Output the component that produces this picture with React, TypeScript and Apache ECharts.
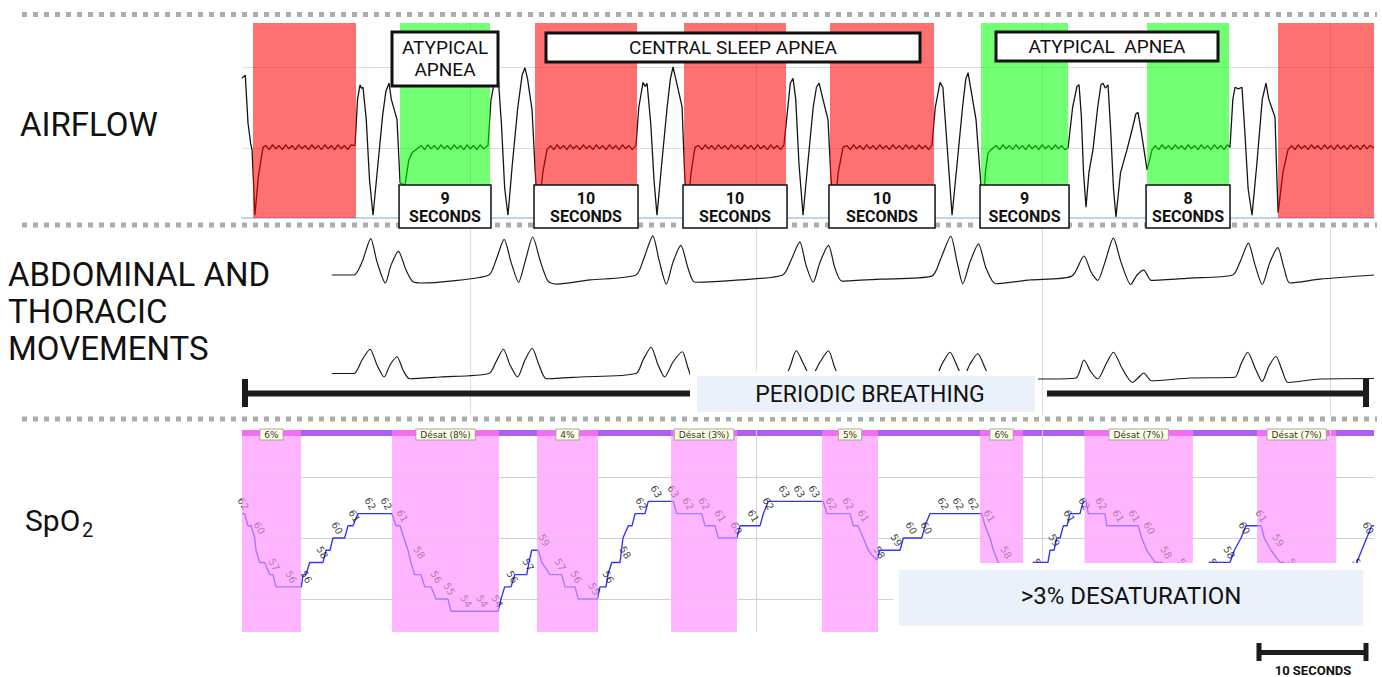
import React, { useEffect, useRef } from "react";
import * as echarts from "echarts";

// ---------- time axis (seconds) ----------
const T_MAX = 103.85;
const GRID_TIMES = [20.92, 47.16, 73.39, 99.82];

// ---------- apnea events (airflow) ----------
const APNEA_START = [1.01, 14.5, 26.88, 40.55, 53.94, 67.8, 83.03, 95.05];
const APNEA_END = [10.46, 22.75, 36.24, 49.91, 63.49, 75.78, 90.55, 103.85];
const APNEA_TYPE = ["central", "atypical", "central", "central", "central", "atypical", "atypical", "central"];
const APNEA_SECONDS = [null, 9, 10, 10, 10, 9, 8, null];

const AIRFLOW_GRID = [0, 1];

// airflow trace [t, amplitude]
const AIRFLOW = [
  [0, 0.86], [0.3, 0.9], [0.55, 0.31], [0.8, 0.05], [0.92, -0.02], [1.19, -0.83], [1.5, -0.35], [1.93, 0.01],
  [2.2, 0.03], [2.5, -0.02], [2.8, 0.04], [3.1, -0.01], [3.4, 0.03], [3.7, -0.02], [4.0, 0.04], [4.3, -0.01], [4.6, 0.03], [4.9, -0.02],
  [5.2, 0.04], [5.5, -0.01], [5.8, 0.03], [6.1, -0.02], [6.4, 0.04], [6.7, -0.01], [7.0, 0.03], [7.3, -0.02], [7.6, 0.04], [7.9, -0.01],
  [8.2, 0.03], [8.5, -0.02], [8.8, 0.04], [9.1, -0.01], [9.4, 0.03], [9.7, -0.02], [10.0, 0.04], [10.37, 0.03],
  [10.6, 0.6], [10.83, 0.78], [10.95, 0.74], [11.1, 0.75], [11.4, 0.35], [11.7, -0.4], [12.02, -0.83], [12.4, -0.3], [12.9, 0.4],
  [13.2, 0.7], [13.49, 0.8], [13.7, 0.6], [14.22, 0.35], [14.5, -0.43], [14.95, -0.46], [15.3, -0.15], [15.6, -0.06], [16.15, 0.0],
  [16.45, 0.03], [16.75, -0.02], [17.05, 0.04], [17.35, -0.01], [17.65, 0.03], [17.95, -0.02], [18.25, 0.04], [18.55, -0.01],
  [18.85, 0.03], [19.15, -0.02], [19.45, 0.04], [19.75, -0.01], [20.05, 0.03], [20.35, -0.02], [20.65, 0.04], [20.95, -0.01],
  [21.25, 0.03], [21.55, -0.02], [21.85, 0.04], [22.15, -0.01], [22.57, 0.03],
  [22.84, 0.59], [23.2, 0.85], [23.49, 0.9], [23.8, 0.3], [24.1, -0.5], [24.4, -0.83], [24.8, -0.2], [25.3, 0.5], [25.7, 0.9],
  [25.96, 0.99], [26.2, 0.85], [26.61, 0.47], [26.9, -0.3], [27.16, -0.83], [27.6, -0.3], [27.98, -0.02],
  [28.3, 0.03], [28.6, -0.02], [28.9, 0.04], [29.2, -0.01], [29.5, 0.03], [29.8, -0.02], [30.1, 0.04], [30.4, -0.01], [30.7, 0.03],
  [31.0, -0.02], [31.3, 0.04], [31.6, -0.01], [31.9, 0.03], [32.2, -0.02], [32.5, 0.04], [32.8, -0.01], [33.1, 0.03], [33.4, -0.02],
  [33.7, 0.04], [34.0, -0.01], [34.3, 0.03], [34.6, -0.02], [34.9, 0.04], [35.2, -0.01], [35.5, 0.03], [35.8, -0.02], [36.15, 0.03],
  [36.4, 0.5], [36.79, 0.81], [37.0, 0.76], [37.16, 0.8], [37.5, 0.3], [37.8, -0.4], [38.07, -0.83], [38.5, -0.2], [39.0, 0.5],
  [39.3, 0.85], [39.54, 1.0], [39.8, 0.85], [40.37, 0.51], [40.6, -0.3], [40.83, -0.83], [41.2, -0.3], [41.56, 0.01],
  [41.9, 0.03], [42.2, -0.02], [42.5, 0.04], [42.8, -0.01], [43.1, 0.03], [43.4, -0.02], [43.7, 0.04], [44.0, -0.01], [44.3, 0.03],
  [44.6, -0.02], [44.9, 0.04], [45.2, -0.01], [45.5, 0.03], [45.8, -0.02], [46.1, 0.04], [46.4, -0.01], [46.7, 0.03], [47.0, -0.02],
  [47.3, 0.04], [47.6, -0.01], [47.9, 0.03], [48.2, -0.02], [48.5, 0.04], [48.8, -0.01], [49.1, 0.03], [49.4, -0.02], [49.72, 0.04],
  [50.0, 0.4], [50.3, 0.8], [50.55, 0.86], [50.8, 0.6], [51.1, -0.2], [51.47, -0.83], [51.9, -0.2], [52.4, 0.5], [52.7, 0.75],
  [52.94, 0.8], [53.3, 0.6], [53.76, 0.35], [54.0, -0.3], [54.31, -0.83], [54.7, -0.3], [55.14, 0.01],
  [55.5, 0.03], [55.8, -0.02], [56.1, 0.04], [56.4, -0.01], [56.7, 0.03], [57.0, -0.02], [57.3, 0.04], [57.6, -0.01], [57.9, 0.03],
  [58.2, -0.02], [58.5, 0.04], [58.8, -0.01], [59.1, 0.03], [59.4, -0.02], [59.7, 0.04], [60.0, -0.01], [60.3, 0.03], [60.6, -0.02],
  [60.9, 0.04], [61.2, -0.01], [61.5, 0.03], [61.8, -0.02], [62.1, 0.04], [62.4, -0.01], [62.7, 0.03], [63.0, -0.02], [63.3, 0.04],
  [63.6, 0.5], [64.04, 0.81], [64.3, 0.75], [64.7, 0.0], [65.14, -0.83], [65.6, -0.2], [66.1, 0.5], [66.4, 0.85], [66.61, 0.93],
  [66.9, 0.7], [67.34, 0.35], [67.7, -0.3], [67.98, -0.8], [68.2, -0.3], [68.44, -0.06], [68.9, 0.0],
  [69.2, 0.03], [69.5, -0.02], [69.8, 0.04], [70.1, -0.01], [70.4, 0.03], [70.7, -0.02], [71.0, 0.04], [71.3, -0.01], [71.6, 0.03],
  [71.9, -0.02], [72.2, 0.04], [72.5, -0.01], [72.8, 0.03], [73.1, -0.02], [73.4, 0.04], [73.7, -0.01], [74.0, 0.03], [74.3, -0.02],
  [74.6, 0.04], [74.9, -0.01], [75.2, 0.03], [75.5, -0.02], [75.78, 0.0],
  [76.2, 0.5], [76.6, 0.76], [76.79, 0.78], [77.0, 0.4], [77.2, -0.3], [77.43, -0.73], [77.7, -0.3], [78.07, -0.02], [78.5, 0.5],
  [78.8, 0.78], [78.99, 0.8], [79.2, 0.74], [79.45, 0.78], [79.7, 0.2], [79.95, -0.5], [80.18, -0.85], [80.6, -0.3], [81.19, -0.02],
  [81.7, 0.25], [82.0, 0.42], [82.2, 0.44], [82.5, 0.2], [83.03, -0.27], [83.49, -0.02],
  [83.8, 0.03], [84.1, -0.02], [84.4, 0.04], [84.7, -0.01], [85.0, 0.03], [85.3, -0.02], [85.6, 0.04], [85.9, -0.01], [86.2, 0.03],
  [86.5, -0.02], [86.8, 0.04], [87.1, -0.01], [87.4, 0.03], [87.7, -0.02], [88.0, 0.04], [88.3, -0.01], [88.6, 0.03], [88.9, -0.02],
  [89.2, 0.04], [89.5, -0.01], [89.8, 0.03], [90.1, -0.02], [90.4, 0.04], [90.64, 0.01],
  [90.9, 0.6], [91.1, 0.75], [91.4, 0.73], [91.74, 0.75], [92.0, 0.2], [92.3, -0.5], [92.66, -0.83], [93.1, -0.2], [93.6, 0.6],
  [93.94, 0.8], [94.2, 0.6], [94.77, 0.38], [94.9, -0.2], [95.05, -0.8], [95.5, -0.3], [95.96, -0.02],
  [96.3, 0.03], [96.6, -0.02], [96.9, 0.04], [97.2, -0.01], [97.5, 0.03], [97.8, -0.02], [98.1, 0.04], [98.4, -0.01], [98.7, 0.03],
  [99.0, -0.02], [99.3, 0.04], [99.6, -0.01], [99.9, 0.03], [100.2, -0.02], [100.5, 0.04], [100.8, -0.01], [101.1, 0.03],
  [101.4, -0.02], [101.7, 0.04], [102.0, -0.01], [102.3, 0.03], [102.6, -0.02], [102.9, 0.04], [103.2, -0.01], [103.5, 0.03], [103.85, 0.0],
];

// abdominal trace [t, amplitude]
const ABDOMEN = [
  [8.24, 0], [10.26, 0], [11.01, 0.34], [11.81, 0.96], [12.39, 0.34], [13.15, -0.21], [13.67, 0.26], [14.35, 0.62], [15.05, 0.13],
  [15.69, -0.18], [16.46, -0.21], [19.08, -0.16], [22.65, 0], [23.3, 0.39], [24.05, 0.94], [24.68, 0.34], [25.38, -0.19],
  [25.96, 0.34], [26.68, 1.0], [27.34, 0.39], [28.07, -0.16], [28.85, -0.24], [31.93, -0.13], [36.14, 0], [36.88, 0.45],
  [37.69, 1.03], [38.26, 0.39], [38.93, -0.24], [39.54, 0.34], [40.26, 0.78], [40.92, 0.18], [41.56, -0.19], [45.69, -0.13],
  [49.61, 0], [50.37, 0.39], [51.17, 0.87], [51.74, 0.26], [52.4, -0.19], [53.03, 0.34], [53.8, 0.78], [54.4, 0.18], [55.05, -0.16],
  [58.53, -0.11], [63.28, -0.03], [64.13, 0.45], [65.02, 1.02], [65.6, 0.34], [66.13, -0.23], [66.79, 0.34], [67.56, 0.82],
  [68.26, 0.18], [69.15, -0.23], [72.29, -0.13], [76.13, -0.03], [77.24, 0.5], [77.89, 0.08], [78.51, -0.14], [79.17, 0.34],
  [79.94, 0.97], [80.64, 0.34], [81.53, -0.25], [82.11, 0], [82.73, 0.13], [83.43, -0.14], [86.97, -0.08], [90.89, 0],
  [91.56, 0.34], [92.32, 0.84], [92.94, 0.26], [93.59, -0.25], [94.31, 0.34], [95.02, 0.72], [95.6, 0.18], [96.13, -0.21],
  [98.9, -0.11], [103.85, 0],
];

// thoracic trace [t, amplitude]
const THORAX = [
  [8.24, 0.1], [10.26, 0.1], [11.01, 0.64], [11.74, 1.07], [12.39, 0.44], [13.04, -0.04], [13.58, 0.44], [14.22, 0.77], [14.77, 0.24],
  [15.37, -0.11], [18.17, -0.04], [22.65, 0.1], [23.3, 0.56], [23.98, 1.07], [24.59, 0.44], [25.28, -0.04], [25.96, 0.64],
  [26.62, 1.11], [27.25, 0.44], [27.93, -0.11], [31.01, -0.04], [36.14, 0.1], [36.79, 0.64], [37.53, 1.15], [38.17, 0.44],
  [38.77, -0.04], [39.54, 0.56], [40.39, 0.97], [40.92, 0.32], [41.4, -0.11], [45.69, -0.04], [49.82, 0.04], [50.85, 1.01],
  [51.56, 0.44], [52.2, -0.04], [53.03, 0.56], [53.8, 1.01], [54.4, 0.32], [55.05, -0.12], [58.53, -0.04], [63.58, 0],
  [64.22, 0.48], [64.95, 0.95], [65.6, 0.4], [66.15, -0.08], [66.79, 0.48], [67.5, 0.89], [68.17, 0.32], [68.81, -0.16],
  [71.38, -0.12], [73.84, -0.12], [76.51, -0.08], [77.24, 0.64], [77.89, 0.16], [78.51, -0.12], [79.27, 0.48], [79.94, 0.95],
  [80.73, 0.32], [81.69, -0.26], [82.2, -0.08], [82.73, 0.12], [83.43, -0.19], [86.97, -0.08], [91.06, -0.05], [91.65, 0.48],
  [92.26, 0.95], [92.94, 0.32], [93.59, -0.22], [94.22, 0.4], [94.86, 0.78], [95.41, 0.24], [95.97, -0.26], [98.9, -0.12],
  [103.85, -0.1],
];

// ---------- SpO2 ----------
const SPO2_GRID = [55, 60, 65];
const SPO2 = [
  [0, 62], [0.25, 62], [0.55, 61], [0.83, 61], [1.17, 60], [1.28, 59], [1.62, 58], [2.08, 58], [2.54, 57], [2.84, 57], [3.12, 56],
  [5.44, 56], [5.6, 57], [5.87, 57], [6.21, 58], [7.43, 58], [7.71, 59], [8.07, 59], [8.35, 60], [9.42, 60], [9.72, 61], [10.18, 61],
  [10.64, 62], [13.76, 62], [14.13, 61], [14.5, 61], [14.86, 60], [15.23, 59], [15.5, 58], [15.84, 57], [16.42, 57], [16.76, 56],
  [17.34, 56], [17.8, 55], [18.9, 55], [19.17, 54], [23.49, 54], [23.76, 55], [24.1, 56], [24.68, 56], [25.02, 57], [26.12, 57],
  [26.33, 58], [26.58, 59], [27.18, 59], [27.5, 58], [28.26, 57], [29.33, 57], [29.63, 56], [30.55, 56], [30.85, 55], [32.6, 55],
  [32.84, 56], [33.39, 56], [33.58, 57], [33.92, 58], [34.68, 58], [34.82, 59], [34.95, 60], [35.44, 61], [35.78, 61], [36.06, 62],
  [36.97, 62], [37.27, 63], [39.57, 63], [39.88, 62], [42.17, 62], [42.48, 61], [43.39, 61], [43.7, 60], [45.39, 60], [45.69, 61],
  [47.52, 61], [47.83, 62], [48.28, 63], [53.33, 63], [53.64, 62], [55.78, 62], [56.08, 61], [56.51, 61], [57.0, 60], [57.46, 59],
  [57.8, 58.6], [58.23, 58.2], [58.53, 59], [60.37, 59], [60.67, 60], [62.36, 60], [62.66, 61], [63.12, 62], [67.86, 62],
  [68.17, 61], [68.62, 60], [68.93, 59], [69.39, 58], [69.99, 57], [70.46, 56], [71.5, 56], [71.9, 57], [72.3, 57], [72.66, 58],
  [73.94, 58], [74.13, 59], [74.5, 59], [74.74, 60], [75.05, 60], [75.35, 61], [75.69, 61], [75.96, 62], [76.88, 62], [77.18, 63],
  [77.43, 63], [77.64, 62], [79.17, 62], [79.33, 61], [82.23, 61], [82.54, 60], [83.0, 59], [83.76, 58], [84.4, 58], [84.7, 57],
  [85.3, 57], [85.6, 56], [87.43, 56], [87.89, 57], [88.62, 57], [88.81, 58], [90.64, 58], [91.04, 59], [91.65, 60], [92.11, 61],
  [93.49, 61], [93.79, 60], [94.4, 59], [95.23, 58], [95.6, 58], [95.9, 57], [96.6, 56], [97.2, 55], [97.98, 54], [100.37, 54],
  [100.73, 55], [101.19, 56], [101.65, 57], [102.27, 58], [102.72, 59], [103.18, 60], [103.64, 61], [103.85, 61],
];
const SPO2_LABELS = [
  [0, 62], [1.47, 60], [2.84, 57], [4.4, 56], [5.78, 56], [7.25, 58], [8.62, 60], [10.18, 61], [11.65, 62], [13.12, 62],
  [14.59, 61], [16.15, 58], [17.71, 56], [18.9, 55], [20.46, 54], [21.93, 54], [23.3, 54], [24.68, 56], [26.15, 57], [27.61, 59],
  [29.08, 57], [30.55, 56], [32.2, 55], [33.49, 56], [35.05, 58], [36.51, 62], [37.89, 63], [39.45, 63], [40.83, 62], [42.29, 62],
  [43.76, 61], [45.23, 60], [46.79, 61], [48.17, 62], [49.63, 63], [51.01, 63], [52.39, 63], [53.94, 62], [55.5, 62], [56.88, 61],
  [58.35, 58], [59.91, 59], [61.28, 60], [62.66, 60], [64.22, 62], [65.6, 62], [66.97, 62], [68.44, 61], [69.99, 58], [71.47, 56],
  [72.94, 57], [74.4, 59], [75.78, 61], [77.16, 62], [78.72, 62], [80.28, 61], [81.74, 61], [83.12, 60], [84.68, 58], [86.24, 57],
  [87.61, 56], [89.08, 57], [90.46, 58], [91.83, 60], [93.39, 61], [94.95, 59], [96.33, 57], [97.8, 55], [99.27, 54], [100.73, 55],
  [102.29, 57], [103.2, 60],
];
const DESAT_START = [0, 13.76, 27.06, 39.36, 53.21, 67.71, 77.3, 93.14];
const DESAT_END = [5.41, 23.58, 32.66, 45.41, 58.35, 71.65, 87.22, 100.37];
const DESAT_TEXT = ["6%", "Désat (8%)", "4%", "Désat (3%)", "5%", "6%", "Désat (7%)", "Désat (7%)"];

const FONT = "Roboto, 'Noto Sans', sans-serif";

function vLines(color: string) {
  return (params: any, api: any) => {
    const cs = params.coordSys;
    const x = Math.round(api.coord([api.value(0), api.value(1)])[0]) + 0.5;
    return { type: "line", shape: { x1: x, y1: cs.y, x2: x, y2: cs.y + cs.height }, style: { stroke: color, lineWidth: 1 } };
  };
}
function hLines(color: string) {
  return (params: any, api: any) => {
    const cs = params.coordSys;
    const y = Math.round(api.coord([api.value(0), api.value(1)])[1]) + 0.5;
    return { type: "line", shape: { x1: cs.x, y1: y, x2: cs.x + cs.width, y2: y }, style: { stroke: color, lineWidth: 1 } };
  };
}

function buildOption() {
  const apneaData = APNEA_START.map((s, i) => [s, APNEA_END[i], 0, i]);
  const durData = APNEA_START.map((s, i) => [s, APNEA_END[i], 0, i]).filter((d) => APNEA_SECONDS[d[3]] != null);
  const desatData = DESAT_START.map((s, i) => [s, DESAT_END[i], 60, i]);

  const txt = (text: string, x: number, y: number, font: string, extra: any = {}) => ({
    type: "text",
    x,
    y,
    z: 100,
    silent: true,
    style: { text, font, fill: "#111", textVerticalAlign: "middle", verticalAlign: "middle", ...extra },
  });
  const dotted = (y: number) => ({
    type: "line",
    z: 0,
    silent: true,
    shape: { x1: 22, y1: y, x2: 1377, y2: y },
    style: { stroke: "#acacac", lineWidth: 5, lineDash: [5, 6] },
  });
  const box = (x: number, y: number, w: number, h: number, lw: number, fill = "#fff", stroke: any = "#111") => ({
    type: "rect",
    z: 90,
    silent: true,
    shape: { x, y, width: w, height: h },
    style: { fill, stroke, lineWidth: lw },
  });
  const bar = (x1: number, y1: number, x2: number, y2: number, lw: number) => ({
    type: "line",
    z: 95,
    silent: true,
    shape: { x1, y1, x2, y2 },
    style: { stroke: "#1c1c1c", lineWidth: lw },
  });

  const graphic: any[] = [
    dotted(14.5),
    dotted(225),
    dotted(419),
    // SpO2 top bar (purple)
    { type: "rect", z: 0, silent: true, shape: { x: 242, y: 430, width: 1132, height: 6 }, style: { fill: "#ad60f0" } },
    // left titles
    txt("AIRFLOW", 20, 124, `400 33px ${FONT}`),
    txt("ABDOMINAL AND", 8, 274, `400 33px ${FONT}`),
    txt("THORACIC", 8, 311, `400 33px ${FONT}`),
    txt("MOVEMENTS", 8, 348, `400 33px ${FONT}`),
    txt("SpO", 25, 520, `400 30px ${FONT}`),
    txt("2", 82, 530, `400 20px ${FONT}`),
    // event label boxes (top)
    box(392, 32, 106, 54, 3),
    txt("ATYPICAL", 445, 47, `400 19px ${FONT}`, { textAlign: "center", align: "center" }),
    txt("APNEA", 445, 69, `400 19px ${FONT}`, { textAlign: "center", align: "center" }),
    box(546, 33, 374, 29, 3),
    txt("CENTRAL SLEEP APNEA", 733, 47, `400 19px ${FONT}`, { textAlign: "center", align: "center" }),
    box(996, 32, 222, 29, 3),
    txt("ATYPICAL  APNEA", 1107, 46, `400 19px ${FONT}`, { textAlign: "center", align: "center" }),
    // periodic breathing
    box(690, 371, 348, 46, 0, "#ffffff", "none"),
    box(697, 376, 338, 36, 0, "#eaf1fa", "none"),
    txt("PERIODIC BREATHING", 870, 394, `400 23px ${FONT}`, { textAlign: "center", align: "center" }),
    bar(242, 393.5, 690, 393.5, 6),
    bar(245, 379, 245, 407, 6),
    bar(1047, 393.5, 1369, 393.5, 6),
    bar(1366, 379, 1366, 407, 6),
    // desaturation mask + box
    box(893, 563, 489, 70, 0, "#ffffff", "none"),
    box(899, 570, 464, 56, 0, "#eaf1fa", "none"),
    txt(">3% DESATURATION", 1131, 596, `400 24px ${FONT}`, { textAlign: "center", align: "center" }),
    // scale bar
    bar(1257, 652.5, 1368, 652.5, 5),
    bar(1259, 643, 1259, 661, 5),
    bar(1366, 643, 1366, 661, 5),
    txt("10 SECONDS", 1313, 670, `700 13px ${FONT}`, { textAlign: "center", align: "center" }),
  ];

  return {
    animation: false,
    backgroundColor: "#ffffff",
    graphic,
    grid: [
      { left: 242, top: 23, width: 1132, height: 195 },
      { left: 242, top: 228, width: 1132, height: 187 },
      { left: 242, top: 430, width: 1132, height: 202 },
    ],
    xAxis: [0, 1, 2].map((i) => ({
      type: "value",
      gridIndex: i,
      min: 0,
      max: T_MAX,
      show: i === 0,
      axisLine: { show: i === 0, onZero: false, lineStyle: { color: "#b9d4ef", width: 2 } },
      axisTick: { show: false },
      axisLabel: { show: false },
      splitLine: { show: false },
    })),
    yAxis: [
      { type: "value", gridIndex: 0, min: -0.864, max: 1.543, show: false, splitLine: { show: false } },
      { type: "value", gridIndex: 1, min: -3.684, max: 1.237, show: false, splitLine: { show: false } },
      { type: "value", gridIndex: 1, min: -1.56, max: 5.92, show: false, splitLine: { show: false } },
      { type: "value", gridIndex: 2, min: 52.3, max: 68.85, show: false, splitLine: { show: false } },
    ],
    series: [
      // ---- airflow panel ----
      { type: "custom", xAxisIndex: 0, yAxisIndex: 0, z: 1, silent: true, data: GRID_TIMES.map((t) => [t, 0]), renderItem: vLines("#dcdcdc") },
      { type: "custom", xAxisIndex: 0, yAxisIndex: 0, z: 1, silent: true, data: AIRFLOW_GRID.map((v) => [0, v]), renderItem: hLines("#dcdcdc") },
      {
        type: "line", xAxisIndex: 0, yAxisIndex: 0, z: 3, data: AIRFLOW, showSymbol: false, symbol: "none",
        lineStyle: { color: "#151515", width: 1.3 }, silent: true,
      },
      {
        type: "custom", xAxisIndex: 0, yAxisIndex: 0, z: 10, silent: true, data: apneaData, encode: { x: [0, 1], y: 2 },
        renderItem: (params: any, api: any) => {
          const cs = params.coordSys;
          const x1 = api.coord([api.value(0), 0])[0];
          const x2 = api.coord([api.value(1), 0])[0];
          const kind = APNEA_TYPE[api.value(3)];
          return {
            type: "rect",
            shape: { x: x1, y: cs.y, width: x2 - x1, height: cs.height },
            style: { fill: kind === "central" ? "rgba(255,0,0,0.56)" : "rgba(0,255,0,0.55)" },
          };
        },
      },
      {
        type: "custom", xAxisIndex: 0, yAxisIndex: 0, z: 20, silent: true, clip: false, data: durData, encode: { x: [0, 1], y: 2 },
        renderItem: (params: any, api: any) => {
          const x1 = api.coord([api.value(0), 0])[0] - 1;
          const x2 = api.coord([api.value(1), 0])[0] + 1;
          const secs = APNEA_SECONDS[api.value(3)];
          const cx = (x1 + x2) / 2;
          return {
            type: "group",
            children: [
              { type: "rect", shape: { x: x1, y: 185, width: x2 - x1, height: 43 }, style: { fill: "#fff", stroke: "#111", lineWidth: 1.5 } },
              {
                type: "text", x: cx, y: 198,
                style: { text: String(secs), font: `700 16px ${FONT}`, fill: "#111", textAlign: "center", align: "center", textVerticalAlign: "middle", verticalAlign: "middle" },
              },
              {
                type: "text", x: cx, y: 216,
                style: { text: "SECONDS", font: `700 16px ${FONT}`, fill: "#111", textAlign: "center", align: "center", textVerticalAlign: "middle", verticalAlign: "middle" },
              },
            ],
          };
        },
      },
      // ---- abdominal / thoracic panel ----
      { type: "custom", xAxisIndex: 1, yAxisIndex: 1, z: 1, silent: true, data: GRID_TIMES.map((t) => [t, 0]), renderItem: vLines("#dcdcdc") },
      {
        type: "line", xAxisIndex: 1, yAxisIndex: 1, z: 3, data: ABDOMEN, showSymbol: false, symbol: "none", smooth: 0.25,
        lineStyle: { color: "#1a1a1a", width: 1.2 }, silent: true,
      },
      {
        type: "line", xAxisIndex: 1, yAxisIndex: 2, z: 3, data: THORAX, showSymbol: false, symbol: "none", smooth: 0.25,
        lineStyle: { color: "#1a1a1a", width: 1.2 }, silent: true,
      },
      // ---- SpO2 panel ----
      {
        type: "custom", xAxisIndex: 2, yAxisIndex: 3, z: 1, silent: true, data: desatData, encode: { x: [0, 1], y: 2 },
        renderItem: (params: any, api: any) => {
          const cs = params.coordSys;
          const x1 = api.coord([api.value(0), 60])[0];
          const x2 = api.coord([api.value(1), 60])[0];
          return {
            type: "group",
            children: [
              { type: "rect", shape: { x: x1, y: cs.y, width: x2 - x1, height: cs.height }, style: { fill: "#ffb4ff" } },
              { type: "rect", shape: { x: x1, y: cs.y, width: x2 - x1, height: 6 }, style: { fill: "#ef6ff2" } },
            ],
          };
        },
      },
      { type: "custom", xAxisIndex: 2, yAxisIndex: 3, z: 2, silent: true, data: GRID_TIMES.map((t) => [t, 60]), renderItem: vLines("#d4d4d4") },
      { type: "custom", xAxisIndex: 2, yAxisIndex: 3, z: 2, silent: true, data: SPO2_GRID.map((v) => [0, v]), renderItem: hLines("#d0d0d0") },
      {
        type: "line", xAxisIndex: 2, yAxisIndex: 3, z: 3, data: SPO2, showSymbol: false, symbol: "none",
        lineStyle: { color: "#3434ff", width: 1.4 }, silent: true,
      },
      {
        type: "scatter", xAxisIndex: 2, yAxisIndex: 3, z: 4, data: SPO2_LABELS, symbolSize: 1, silent: true, clip: false,
        itemStyle: { color: "rgba(0,0,0,0)" },
        label: {
          show: true, position: "inside", offset: [-8, -6], rotate: -60,
          formatter: (p: any) => String(p.value[1]),
          fontSize: 10, fontFamily: "'DejaVu Sans', sans-serif", color: "#111",
        },
      },
      {
        type: "custom", xAxisIndex: 2, yAxisIndex: 3, z: 6, silent: true, data: desatData, encode: { x: [0, 1], y: 2 },
        renderItem: (params: any, api: any) => {
          const cs = params.coordSys;
          const x1 = api.coord([api.value(0), 60])[0];
          const x2 = api.coord([api.value(1), 60])[0];
          return { type: "rect", shape: { x: x1, y: cs.y + 6, width: x2 - x1, height: cs.height - 6 }, style: { fill: "rgba(255,180,255,0.55)" } };
        },
      },
      {
        type: "custom", xAxisIndex: 2, yAxisIndex: 3, z: 8, silent: true, clip: false, data: desatData, encode: { x: [0, 1], y: 2 },
        renderItem: (params: any, api: any) => {
          const cs = params.coordSys;
          const x1 = api.coord([api.value(0), 60])[0];
          const x2 = api.coord([api.value(1), 60])[0];
          return {
            type: "text", x: (x1 + x2) / 2, y: cs.y + 4.5,
            style: {
              text: DESAT_TEXT[api.value(3)], font: `9px 'DejaVu Sans', sans-serif`, fill: "#333",
              textAlign: "center", align: "center", textVerticalAlign: "middle", verticalAlign: "middle",
              backgroundColor: "#ffffe1", borderColor: "#a6a6a6", borderWidth: 1, padding: [1, 4, 0, 4],
            },
          };
        },
      },
    ],
  };
}

export default function App() {
  const ref = useRef<HTMLDivElement>(null);
  useEffect(() => {
    if (!ref.current) return;
    const chart = echarts.init(ref.current, undefined, { renderer: "svg" });
    chart.setOption(buildOption() as any);
    return () => chart.dispose();
  }, []);
  return <div ref={ref} style={{ position: "fixed", left: 0, top: 0, width: 1382, height: 677, background: "#fff" }} />;
}
